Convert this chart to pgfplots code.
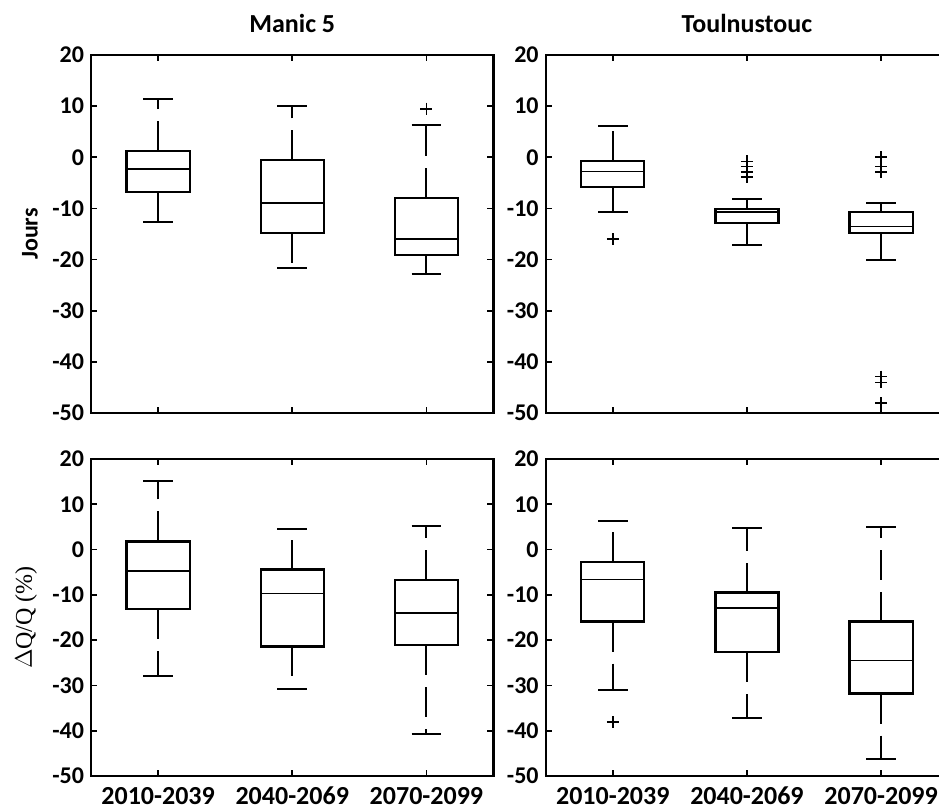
\documentclass[border=0pt]{standalone}
\usepackage{fontspec}
\setmainfont{Carlito}
\newfontfamily\seriffont{Liberation Serif}
\usepackage{pgfplots}
\pgfplotsset{compat=1.18}
\usepgfplotslibrary{statistics}

% MATLAB-like boxplots: dashed whiskers (each cap is a fresh sub-path,
% so its first dash keeps it solid), heavy box, thin median
\pgfplotsset{
  boxplot/draw direction=y,
  boxplot/box extend=0.47,
  boxplot/whisker extend=0.22,
  boxplot/every box/.style={line width=1.1pt},
  boxplot/every median/.style={line width=0.7pt},
  boxplot/every whisker/.style={line width=1pt, dash pattern=on 15pt off 6pt},
}
\pgfplotsset{
  mlbox/.style={
    black, mark=+, mark size=3pt,
    mark options={line width=0.8pt, solid},
  },
  panel/.style={
    scale only axis,
    width=201.25pt,
    xmin=0.5, xmax=3.5,
    ymin=-50, ymax=20,
    xtick={1,2,3},
    ytick={-50,-40,-30,-20,-10,0,10,20},
    yticklabels={-50,-40,-30,-20,-10,0,10,20},
    tick align=inside,
    major tick length=3pt,
    every tick/.style={black, line width=0.9pt},
    axis line style={line width=1.1pt},
    yticklabel style={font=\bfseries\fontsize{12}{12}\selectfont},
    xticklabel style={font=\bfseries\fontsize{13}{13}\selectfont, yshift=-2pt},
    title style={font=\bfseries\fontsize{13}{13}\selectfont,
                 at={(axis description cs:0.5,1)}, anchor=base, yshift=5.5pt},
  },
  toprow/.style={height=179pt, xticklabels={}},
  botrow/.style={height=158.5pt, xticklabels={2010-2039,2040-2069,2070-2099}},
}

\begin{document}
\begin{tikzpicture}
\useasboundingbox (0pt,0pt) rectangle (469.5pt,-405pt);

% ---------- Manic 5, date shift (days) ----------
\begin{axis}[panel, toprow, at={(45.5pt,-27.5pt)}, anchor=north west,
  title={Manic 5},
  ylabel={Jours},
  every axis y label/.style={at={(axis description cs:-0.152,0.5)},
    rotate=90, anchor=center, font=\bfseries\fontsize{12}{12}\selectfont}]
\addplot[mlbox, boxplot prepared={draw position=1,
  lower whisker=-12.6, lower quartile=-6.8, median=-2.3,
  upper quartile=1.2, upper whisker=11.3}] coordinates {};
\addplot[mlbox, boxplot prepared={draw position=2,
  lower whisker=-21.7, lower quartile=-14.8, median=-8.9,
  upper quartile=-0.6, upper whisker=10.1}] coordinates {};
\addplot[mlbox, boxplot prepared={draw position=3,
  lower whisker=-22.9, lower quartile=-19.1, median=-16.0,
  upper quartile=-7.9, upper whisker=6.3}]
  table[row sep=\\, y index=0] {v\\ 9.5\\};
\end{axis}

% ---------- Toulnustouc, date shift (days) ----------
\begin{axis}[panel, toprow, at={(272.85pt,-27.5pt)}, anchor=north west,
  title={Toulnustouc}]
\addplot[mlbox, boxplot prepared={draw position=1,
  lower whisker=-10.7, lower quartile=-5.8, median=-2.8,
  upper quartile=-0.8, upper whisker=6.2}]
  table[row sep=\\, y index=0] {v\\ -16.0\\};
\addplot[mlbox, boxplot prepared={draw position=2,
  lower whisker=-17.1, lower quartile=-12.9, median=-10.7,
  upper quartile=-10.1, upper whisker=-8.1}]
  table[row sep=\\, y index=0] {v\\ -0.8\\ -1.8\\ -2.9\\ -3.9\\};
\addplot[mlbox, boxplot prepared={draw position=3,
  lower whisker=-20.1, lower quartile=-14.8, median=-13.5,
  upper quartile=-10.7, upper whisker=-9.0}]
  table[row sep=\\, y index=0] {v\\ 0.0\\ -1.8\\ -2.9\\ -42.9\\ -44.0\\ -48.1\\};
\end{axis}

% ---------- Manic 5, relative flow change ----------
\begin{axis}[panel, botrow, at={(45.5pt,-229.5pt)}, anchor=north west,
  ylabel={\seriffont$\Delta$Q/Q (\%)},
  every axis y label/.style={at={(axis description cs:-0.161,0.5)},
    rotate=90, anchor=center, font=\fontsize{12}{12}\selectfont}]
\addplot[mlbox, boxplot prepared={draw position=1,
  lower whisker=-27.9, lower quartile=-13.2, median=-4.7,
  upper quartile=1.8, upper whisker=15.1}] coordinates {};
\addplot[mlbox, boxplot prepared={draw position=2,
  lower whisker=-30.7, lower quartile=-21.4, median=-9.7,
  upper quartile=-4.4, upper whisker=4.6}] coordinates {};
\addplot[mlbox, boxplot prepared={draw position=3,
  lower whisker=-40.8, lower quartile=-21.1, median=-14.0,
  upper quartile=-6.7, upper whisker=5.2}] coordinates {};
\end{axis}

% ---------- Toulnustouc, relative flow change ----------
\begin{axis}[panel, botrow, at={(272.85pt,-229.5pt)}, anchor=north west]
\addplot[mlbox, boxplot prepared={draw position=1,
  lower whisker=-31.1, lower quartile=-15.9, median=-6.6,
  upper quartile=-2.8, upper whisker=6.3}]
  table[row sep=\\, y index=0] {v\\ -38.1\\};
\addplot[mlbox, boxplot prepared={draw position=2,
  lower whisker=-37.3, lower quartile=-22.7, median=-12.9,
  upper quartile=-9.5, upper whisker=4.8}] coordinates {};
\addplot[mlbox, boxplot prepared={draw position=3,
  lower whisker=-46.3, lower quartile=-31.8, median=-24.5,
  upper quartile=-15.9, upper whisker=4.9}] coordinates {};
\end{axis}
\end{tikzpicture}
\end{document}
